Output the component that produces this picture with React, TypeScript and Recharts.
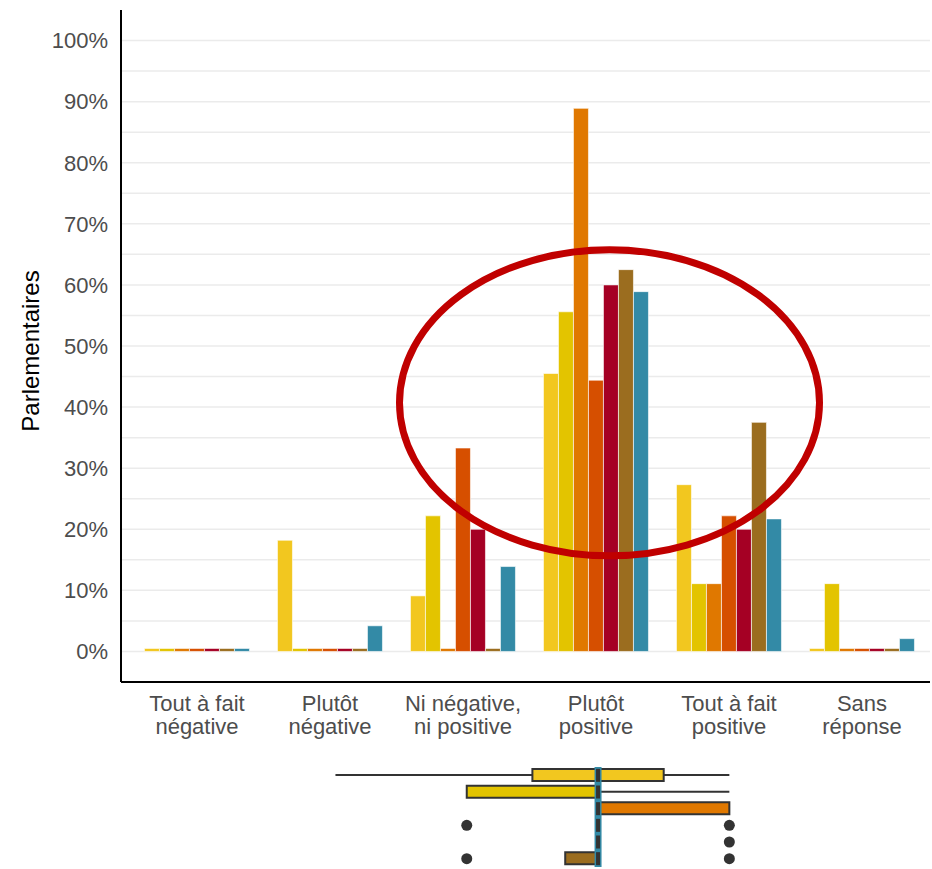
import React from 'react';
import {
  BarChart,
  Bar,
  XAxis,
  YAxis,
  CartesianGrid,
  ReferenceDot,
  ComposedChart,
  Scatter,
  ReferenceLine,
  Cell,
} from 'recharts';

const FONT = '"Liberation Sans", Arial, Helvetica, sans-serif';

// ---------- Bar chart data ----------
const categories = [
  'Tout à fait\nnégative',
  'Plutôt\nnégative',
  'Ni négative,\nni positive',
  'Plutôt\npositive',
  'Tout à fait\npositive',
  'Sans\nréponse',
];
const series1 = [0, 18.2, 9.1, 45.5, 27.3, 0];
const series2 = [0, 0, 22.2, 55.6, 11.1, 11.1];
const series3 = [0, 0, 0, 88.9, 11.1, 0];
const series4 = [0, 0, 33.3, 44.4, 22.2, 0];
const series5 = [0, 0, 20.0, 60.0, 20.0, 0];
const series6 = [0, 0, 0, 62.5, 37.5, 0];
const series7 = [0, 4.2, 13.9, 58.9, 21.7, 2.1];
const seriesKeys = ['s1', 's2', 's3', 's4', 's5', 's6', 's7'];
const seriesValues = [series1, series2, series3, series4, series5, series6, series7];
const seriesColors = ['#F2C71F', '#E3C400', '#E07800', '#D64F00', '#A50024', '#9B6D1F', '#338AA6'];
const yTicks = [0, 10, 20, 30, 40, 50, 60, 70, 80, 90, 100];
const gridValues = [0, 5, 10, 15, 20, 25, 30, 35, 40, 45, 50, 55, 60, 65, 70, 75, 80, 85, 90, 95, 100];
const yLabel = 'Parlementaires';

// highlight ellipse anchor (category + value)
const highlightCategory = categories[3];
const highlightValue = 40.7;

// ---------- Box plot data ----------
const boxRows = ['r1', 'r2', 'r3', 'r4', 'r5', 'r6'];
const whiskerLo = [2, 3, null, null, null, null];
const whiskerHi = [5, 5, null, null, null, null];
const boxQ1 = [3.5, 3, 4, null, null, 3.75];
const boxQ3 = [4.5, 4, 5, null, null, 4];
const medians = [4, 4, 4, 4, 4, 4];
const outlierRows = ['r4', 'r4', 'r5', 'r6', 'r6'];
const outlierValues = [3, 5, 5, 3, 5];
const overallMedian = 4;
const boxColors = ['#F2C71F', '#E3C400', '#E07800', '#D64F00', '#A50024', '#9B6D1F'];

const barData = categories.map((c, i) => {
  const row: Record<string, any> = { cat: c };
  seriesKeys.forEach((k, j) => {
    row[k] = seriesValues[j][i];
  });
  return row;
});

const boxData = boxRows.map((r, i) => ({
  row: r,
  whisker: whiskerLo[i] != null ? [whiskerLo[i], whiskerHi[i]] : null,
  box: boxQ1[i] != null ? [boxQ1[i], boxQ3[i]] : null,
}));
const medianData = boxRows.map((r, i) => ({ row: r, v: medians[i] }));
const outlierData = outlierRows.map((r, i) => ({ row: r, v: outlierValues[i] }));

const XTick = (props: any) => {
  const { x, y, payload } = props;
  const lines = String(payload.value).split('\n');
  return (
    <text x={x} y={y} textAnchor="middle" fill="#4D4D4D" fontSize={22} fontFamily={FONT}>
      {lines.map((l, i) => (
        <tspan key={i} x={x} dy={i === 0 ? 21 : 23}>
          {l}
        </tspan>
      ))}
    </text>
  );
};

const YLabel = (props: any) => {
  const vb = props.viewBox || { x: 0, y: 0, width: 0, height: 0 };
  const cx = vb.x + 30;
  const cy = vb.y + vb.height / 2 + 5;
  return (
    <text
      x={cx}
      y={cy}
      transform={`rotate(-90 ${cx} ${cy})`}
      textAnchor="middle"
      dominantBaseline="central"
      fill="#000"
      fontSize={24}
      fontFamily={FONT}
    >
      {yLabel}
    </text>
  );
};

const EllipseShape = (props: any) => {
  const { cx, cy } = props;
  if (cx == null || cy == null) return null;
  return <ellipse cx={cx + 13.5} cy={cy} rx={210} ry={153} fill="none" stroke="#C00000" strokeWidth={7} />;
};

const MedianShape = (props: any) => {
  const { cx, cy } = props;
  if (cx == null || cy == null) return null;
  return <rect x={cx - 2} y={cy - 6.5} width={4} height={13} fill="#333333" />;
};

const DotShape = (props: any) => {
  const { cx, cy } = props;
  if (cx == null || cy == null) return null;
  return <circle cx={cx} cy={cy} r={5.5} fill="#333333" />;
};

export default function App() {
  return (
    <div
      style={{
        position: 'absolute',
        left: 0,
        top: 0,
        width: 932,
        height: 869,
        overflow: 'hidden',
        background: '#ffffff',
        fontFamily: FONT,
      }}
    >
      <div style={{ position: 'absolute', left: 0, top: 0 }}>
        <BarChart
          width={932}
          height={750}
          data={barData}
          margin={{ top: 10, right: 2, bottom: 0, left: 0 }}
          barCategoryGap="10.5%"
          barGap={0}
        >
          <CartesianGrid vertical={false} horizontalValues={gridValues} stroke="#EBEBEB" strokeWidth={1.5} />
          <XAxis
            dataKey="cat"
            type="category"
            padding={{ left: 9.5, right: 1.5 }}
            height={68}
            axisLine={{ stroke: '#000', strokeWidth: 2 }}
            tickLine={false}
            tickSize={6}
            tickMargin={2}
            interval={0}
            tick={<XTick />}
          />
          <YAxis
            type="number"
            domain={[-5, 105]}
            ticks={yTicks}
            width={121}
            allowDataOverflow
            axisLine={{ stroke: '#000', strokeWidth: 2 }}
            tickLine={false}
            tickSize={6}
            tickMargin={7}
            tickFormatter={(v: number) => `${v}%`}
            tick={{ fill: '#4D4D4D', fontSize: 22, fontFamily: FONT }}
            label={{ content: <YLabel /> }}
          />
          {seriesKeys.map((k, j) => (
            <Bar
              key={k}
              dataKey={k}
              fill={seriesColors[j]}
              stroke="#ffffff"
              strokeWidth={0.6}
              minPointSize={3}
              isAnimationActive={false}
            />
          ))}
          <ReferenceDot x={highlightCategory} y={highlightValue} shape={<EllipseShape />} ifOverflow="visible" />
        </BarChart>
      </div>
      <div style={{ position: 'absolute', left: 0, top: 750 }}>
        <ComposedChart
          layout="vertical"
          width={932}
          height={119}
          data={boxData}
          margin={{ top: 17, right: 2, bottom: 2, left: 121 }}
        >
          <XAxis type="number" domain={[0.5, 6.5]} padding={{ left: 17.5, right: 3.7 }} hide allowDataOverflow />
          <YAxis yAxisId="w" type="category" dataKey="row" hide allowDuplicatedCategory={false} />
          <YAxis yAxisId="b" type="category" dataKey="row" hide allowDuplicatedCategory={false} />
          <Bar yAxisId="w" dataKey="whisker" barSize={2} fill="#333333" isAnimationActive={false} />
          <Bar yAxisId="b" dataKey="box" barSize={12} stroke="#333333" strokeWidth={2} isAnimationActive={false}>
            {boxData.map((d, i) => (
              <Cell key={d.row} fill={boxColors[i]} />
            ))}
          </Bar>
          <ReferenceLine yAxisId="b" x={overallMedian} stroke="#338AA6" strokeWidth={7} />
          <Scatter yAxisId="b" data={medianData} dataKey="v" shape={<MedianShape />} isAnimationActive={false} />
          <Scatter yAxisId="b" data={outlierData} dataKey="v" shape={<DotShape />} isAnimationActive={false} />
        </ComposedChart>
      </div>
    </div>
  );
}
